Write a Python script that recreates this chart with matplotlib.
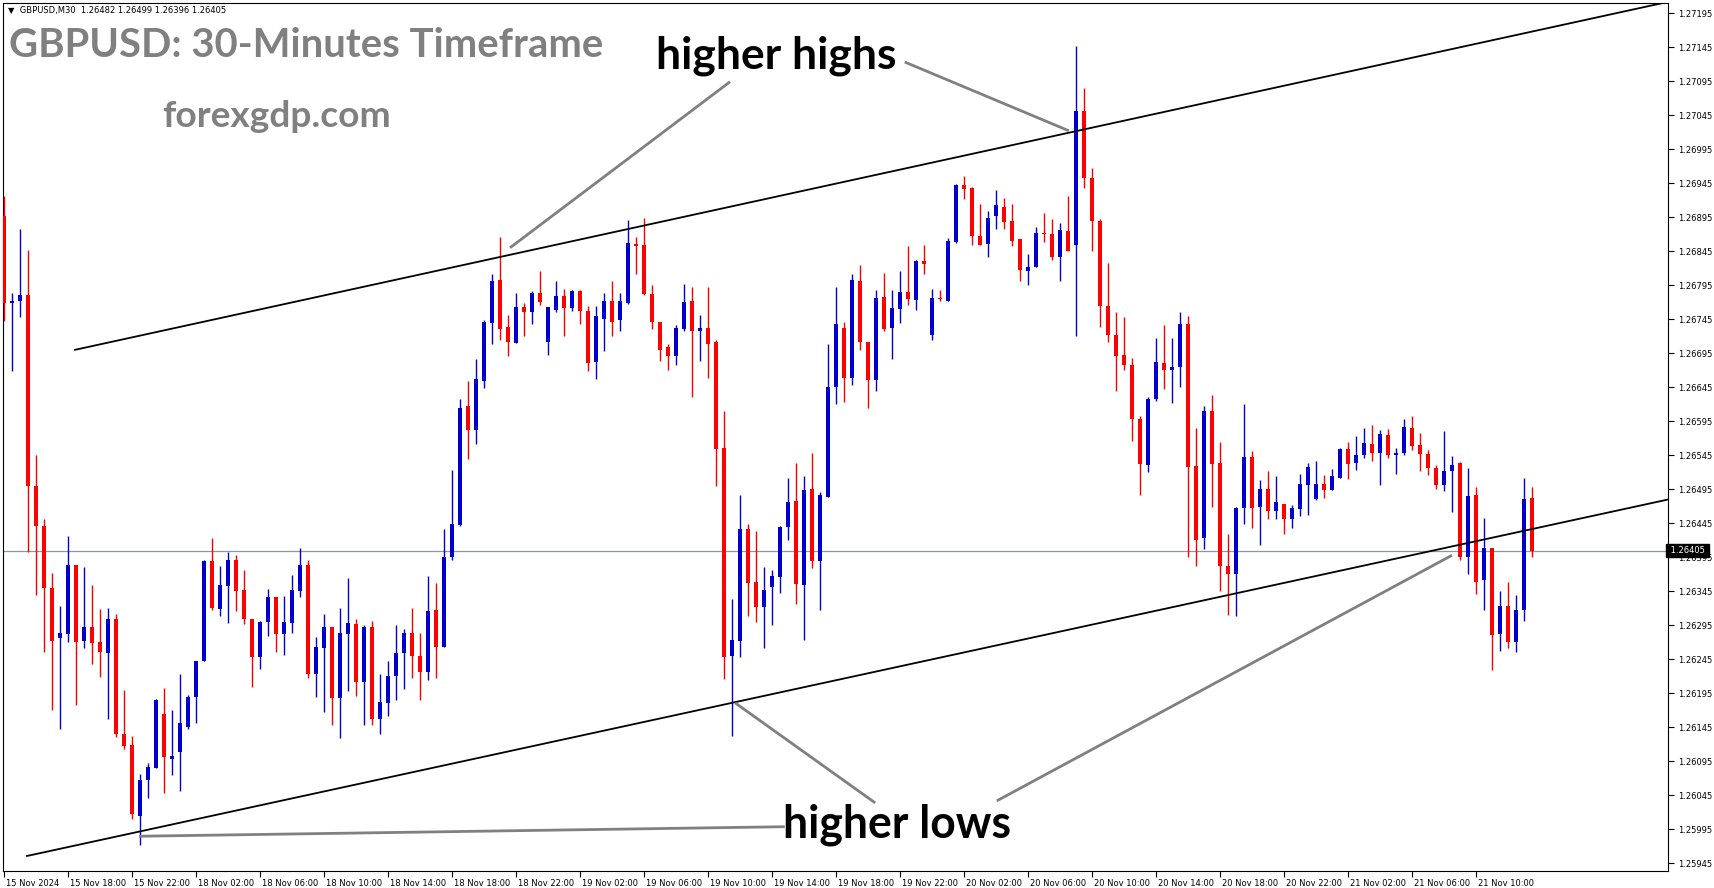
import matplotlib
matplotlib.use('Agg')
import matplotlib.pyplot as plt
import matplotlib.transforms as mtransforms
import numpy as np

# GBPUSD M30 candles, 15 Nov 14:00 -> 21 Nov 13:30
opens = [
    1.26896, 1.26769, 1.26772, 1.26780, 1.26500, 1.26441, 1.26350, 1.26277, 1.26283, 1.26383,
    1.26272, 1.26293, 1.26271, 1.26254, 1.26305, 1.26136, 1.26119, 1.26015, 1.26067, 1.26085,
    1.26164, 1.26099, 1.26109, 1.26146, 1.26190, 1.26242, 1.26389, 1.26319, 1.26353, 1.26391,
    1.26347, 1.26304, 1.26248, 1.26300, 1.26337, 1.26283, 1.26298, 1.26346, 1.26383, 1.26223,
    1.26262, 1.26292, 1.26188, 1.26283, 1.26297, 1.26211, 1.26292, 1.26157, 1.26181, 1.26220,
    1.26254, 1.26284, 1.26250, 1.26227, 1.26317, 1.26263, 1.26395, 1.26443, 1.26617, 1.26582,
    1.26654, 1.26739, 1.26803, 1.26733, 1.26710, 1.26763, 1.26755, 1.26783, 1.26711, 1.26759,
    1.26779, 1.26762, 1.26786, 1.26757, 1.26682, 1.26746, 1.26772, 1.26744, 1.26769, 1.26855,
    1.26854, 1.26782, 1.26741, 1.26704, 1.26691, 1.26730, 1.26772, 1.26728, 1.26732, 1.26711,
    1.26555, 1.26250, 1.26272, 1.26437, 1.26359, 1.26322, 1.26351, 1.26366, 1.26439, 1.26478,
    1.26354, 1.26495, 1.26389, 1.26483, 1.26645, 1.26732, 1.26658, 1.26801, 1.26711, 1.26655,
    1.26777, 1.26732, 1.26760, 1.26785, 1.26773, 1.26831, 1.26722, 1.26776, 1.26772, 1.26858,
    1.26942, 1.26938, 1.26868, 1.26856, 1.26896, 1.26910, 1.26889, 1.26863, 1.26816, 1.26822,
    1.26872, 1.26870, 1.26837, 1.26875, 1.26854, 1.27051, 1.26952, 1.26890, 1.26765, 1.26722,
    1.26692, 1.26678, 1.26598, 1.26530, 1.26628, 1.26681, 1.26670, 1.26675, 1.26738, 1.26529,
    1.26423, 1.26610, 1.26534, 1.26382, 1.26370, 1.26467, 1.26543, 1.26469, 1.26495, 1.26463,
    1.26474, 1.26452, 1.26466, 1.26501, 1.26481, 1.26503, 1.26494, 1.26512, 1.26554, 1.26533,
    1.26545, 1.26561, 1.26549, 1.26575, 1.26545, 1.26548, 1.26585, 1.26560, 1.26547, 1.26527,
    1.26501, 1.26522, 1.26533, 1.26395, 1.26487, 1.26362, 1.26409, 1.26283, 1.26324, 1.26270,
    1.26318, 1.26482]
highs = [
    1.26926, 1.26783, 1.26877, 1.26847, 1.26545, 1.26452, 1.26372, 1.26323, 1.26426, 1.26383,
    1.26381, 1.26354, 1.26319, 1.26321, 1.26311, 1.26200, 1.26132, 1.26076, 1.26092, 1.26186,
    1.26203, 1.26170, 1.26223, 1.26192, 1.26242, 1.26391, 1.26424, 1.26382, 1.26403, 1.26399,
    1.26376, 1.26304, 1.26301, 1.26348, 1.26337, 1.26338, 1.26369, 1.26408, 1.26391, 1.26278,
    1.26311, 1.26292, 1.26321, 1.26364, 1.26304, 1.26296, 1.26302, 1.26224, 1.26242, 1.26295,
    1.26290, 1.26321, 1.26284, 1.26368, 1.26357, 1.26437, 1.26523, 1.26627, 1.26654, 1.26687,
    1.26744, 1.26812, 1.26866, 1.26751, 1.26783, 1.26769, 1.26787, 1.26816, 1.26763, 1.26801,
    1.26789, 1.26788, 1.26788, 1.26765, 1.26764, 1.26783, 1.26801, 1.26783, 1.26891, 1.26866,
    1.26894, 1.26795, 1.26741, 1.26708, 1.26736, 1.26797, 1.26793, 1.26751, 1.26793, 1.26715,
    1.26610, 1.26334, 1.26486, 1.26444, 1.26434, 1.26381, 1.26376, 1.26441, 1.26511, 1.26534,
    1.26515, 1.26549, 1.26491, 1.26708, 1.26793, 1.26741, 1.26811, 1.26824, 1.26711, 1.26788,
    1.26813, 1.26788, 1.26816, 1.26852, 1.26832, 1.26854, 1.26789, 1.26788, 1.26865, 1.26944,
    1.26955, 1.26940, 1.26914, 1.26904, 1.26935, 1.26923, 1.26914, 1.26863, 1.26841, 1.26881,
    1.26901, 1.26893, 1.26887, 1.26926, 1.27147, 1.27085, 1.26967, 1.26893, 1.26828, 1.26755,
    1.26748, 1.26688, 1.26602, 1.26631, 1.26717, 1.26736, 1.26718, 1.26755, 1.26749, 1.26585,
    1.26618, 1.26633, 1.26564, 1.26429, 1.26469, 1.26620, 1.26551, 1.26509, 1.26522, 1.26514,
    1.26474, 1.26472, 1.26518, 1.26533, 1.26536, 1.26516, 1.26525, 1.26556, 1.26564, 1.26574,
    1.26585, 1.26589, 1.26582, 1.26584, 1.26556, 1.26598, 1.26603, 1.26578, 1.26553, 1.26530,
    1.26580, 1.26544, 1.26535, 1.26526, 1.26498, 1.26453, 1.26409, 1.26345, 1.26359, 1.26339,
    1.26512, 1.26499]
lows = [
    1.26743, 1.26669, 1.26748, 1.26403, 1.26339, 1.26256, 1.26170, 1.26143, 1.26271, 1.26178,
    1.26262, 1.26238, 1.26219, 1.26157, 1.26131, 1.26113, 1.26010, 1.25972, 1.26041, 1.26085,
    1.26048, 1.26075, 1.26052, 1.26142, 1.26151, 1.26242, 1.26318, 1.26309, 1.26298, 1.26316,
    1.26297, 1.26205, 1.26231, 1.26280, 1.26256, 1.26252, 1.26284, 1.26336, 1.26217, 1.26190,
    1.26167, 1.26149, 1.26130, 1.26198, 1.26191, 1.26149, 1.26149, 1.26136, 1.26162, 1.26185,
    1.26202, 1.26217, 1.26185, 1.26214, 1.26217, 1.26263, 1.26391, 1.26441, 1.26540, 1.26561,
    1.26644, 1.26708, 1.26714, 1.26691, 1.26710, 1.26721, 1.26738, 1.26766, 1.26693, 1.26755,
    1.26721, 1.26757, 1.26738, 1.26669, 1.26657, 1.26698, 1.26721, 1.26727, 1.26767, 1.26811,
    1.26780, 1.26730, 1.26683, 1.26671, 1.26677, 1.26728, 1.26631, 1.26683, 1.26659, 1.26500,
    1.26216, 1.26132, 1.26249, 1.26308, 1.26300, 1.26262, 1.26295, 1.26342, 1.26420, 1.26326,
    1.26273, 1.26379, 1.26318, 1.26483, 1.26620, 1.26623, 1.26648, 1.26700, 1.26614, 1.26640,
    1.26727, 1.26686, 1.26740, 1.26766, 1.26759, 1.26811, 1.26715, 1.26772, 1.26772, 1.26857,
    1.26922, 1.26854, 1.26854, 1.26837, 1.26878, 1.26878, 1.26852, 1.26801, 1.26795, 1.26822,
    1.26858, 1.26832, 1.26801, 1.26845, 1.26721, 1.26938, 1.26845, 1.26734, 1.26711, 1.26640,
    1.26670, 1.26566, 1.26487, 1.26520, 1.26625, 1.26642, 1.26622, 1.26646, 1.26395, 1.26382,
    1.26407, 1.26469, 1.26346, 1.26310, 1.26308, 1.26444, 1.26438, 1.26413, 1.26451, 1.26451,
    1.26429, 1.26438, 1.26456, 1.26457, 1.26479, 1.26482, 1.26494, 1.26511, 1.26510, 1.26523,
    1.26541, 1.26537, 1.26502, 1.26541, 1.26518, 1.26546, 1.26553, 1.26522, 1.26516, 1.26495,
    1.26493, 1.26462, 1.26391, 1.26370, 1.26341, 1.26318, 1.26230, 1.26258, 1.26262, 1.26256,
    1.26302, 1.26396]
closes = [
    1.26769, 1.26772, 1.26780, 1.26500, 1.26441, 1.26350, 1.26272, 1.26284, 1.26383, 1.26271,
    1.26293, 1.26269, 1.26256, 1.26304, 1.26136, 1.26118, 1.26017, 1.26068, 1.26087, 1.26185,
    1.26101, 1.26103, 1.26151, 1.26190, 1.26242, 1.26389, 1.26321, 1.26354, 1.26391, 1.26346,
    1.26305, 1.26248, 1.26300, 1.26337, 1.26283, 1.26300, 1.26347, 1.26383, 1.26223, 1.26263,
    1.26292, 1.26188, 1.26284, 1.26298, 1.26211, 1.26293, 1.26158, 1.26183, 1.26221, 1.26254,
    1.26284, 1.26250, 1.26227, 1.26316, 1.26263, 1.26395, 1.26444, 1.26614, 1.26582, 1.26657,
    1.26741, 1.26801, 1.26731, 1.26712, 1.26763, 1.26755, 1.26783, 1.26770, 1.26763, 1.26779,
    1.26762, 1.26786, 1.26757, 1.26681, 1.26750, 1.26772, 1.26741, 1.26772, 1.26857, 1.26852,
    1.26782, 1.26741, 1.26700, 1.26691, 1.26732, 1.26770, 1.26728, 1.26732, 1.26708, 1.26554,
    1.26249, 1.26273, 1.26437, 1.26357, 1.26322, 1.26347, 1.26368, 1.26439, 1.26477, 1.26356,
    1.26494, 1.26389, 1.26486, 1.26645, 1.26738, 1.26659, 1.26803, 1.26711, 1.26655, 1.26776,
    1.26730, 1.26761, 1.26785, 1.26774, 1.26831, 1.26826, 1.26776, 1.26774, 1.26860, 1.26942,
    1.26936, 1.26868, 1.26854, 1.26894, 1.26913, 1.26888, 1.26860, 1.26818, 1.26822, 1.26872,
    1.26870, 1.26837, 1.26876, 1.26845, 1.27051, 1.26952, 1.26890, 1.26765, 1.26722, 1.26691,
    1.26677, 1.26598, 1.26532, 1.26627, 1.26682, 1.26670, 1.26675, 1.26738, 1.26528, 1.26421,
    1.26610, 1.26532, 1.26382, 1.26371, 1.26467, 1.26543, 1.26468, 1.26495, 1.26463, 1.26476,
    1.26451, 1.26468, 1.26503, 1.26528, 1.26503, 1.26494, 1.26515, 1.26554, 1.26532, 1.26546,
    1.26563, 1.26548, 1.26576, 1.26545, 1.26548, 1.26587, 1.26559, 1.26547, 1.26526, 1.26501,
    1.26522, 1.26530, 1.26395, 1.26485, 1.26359, 1.26409, 1.26281, 1.26324, 1.26270, 1.26318,
    1.26481, 1.26405]

last_price = 1.26405

time_tick_bars = list(range(0, 185, 8))
time_tick_labels = [
    '15 Nov 2024', '15 Nov 18:00', '15 Nov 22:00', '18 Nov 02:00', '18 Nov 06:00',
    '18 Nov 10:00', '18 Nov 14:00', '18 Nov 18:00', '18 Nov 22:00', '19 Nov 02:00',
    '19 Nov 06:00', '19 Nov 10:00', '19 Nov 14:00', '19 Nov 18:00', '19 Nov 22:00',
    '20 Nov 02:00', '20 Nov 06:00', '20 Nov 10:00', '20 Nov 14:00', '20 Nov 18:00',
    '20 Nov 22:00', '21 Nov 02:00', '21 Nov 06:00', '21 Nov 10:00']
price_ticks = [
    1.27195, 1.27145, 1.27095, 1.27045, 1.26995, 1.26945, 1.26895, 1.26845, 1.26795,
    1.26745, 1.26695, 1.26645, 1.26595, 1.26545, 1.26495, 1.26445, 1.26395, 1.26345,
    1.26295, 1.26245, 1.26195, 1.26145, 1.26095, 1.26045, 1.25995, 1.25945]

# channel trendlines (bar index, price): two anchors each, extended to the right
upper_line = [(8.875, 1.26700), (172.0, 1.27119)]
lower_line = [(2.875, 1.25956), (172.0, 1.26388)]

# grey pointer lines from the labels
pointers = [
    [(90.75, 1.27094), (63.25, 1.26850)],
    [(112.6, 1.27123), (133.1, 1.27022)],
    [(91.4, 1.26181), (108.9, 1.26034)],
    [(124.1, 1.26037), (181.0, 1.26398)],
    [(16.9, 1.25985), (97.6, 1.25999)],
]

W, H = 1714, 888
fig = plt.figure(figsize=(W / 100, H / 100), dpi=100)
ax = fig.add_axes([2.5 / W, 1 - 871 / H, (1668 - 2.5) / W, (871 - 3) / H])

o, h, l, c = (np.array(v) for v in (opens, highs, lows, closes))
x = np.arange(len(o))
cols = np.where(c >= o, '#0000CD', '#FF0000')

ax.axhline(last_price, color='#8a96a3', lw=0.9, zorder=1)
ax.vlines(x, l, h, colors=cols, lw=1.0, zorder=3)
ax.bar(x, np.maximum(np.abs(c - o), 0.000012), bottom=np.minimum(o, c), width=0.6,
       color=cols, linewidth=0, zorder=4)

x_right = 208.0
for (x0, y0), (x1, y1) in (upper_line, lower_line):
    slope = (y1 - y0) / (x1 - x0)
    ax.plot([x0, x_right], [y0, y0 + slope * (x_right - x0)], color='black', lw=1.3, zorder=5)

for (x0, y0), (x1, y1) in pointers:
    ax.plot([x0, x1], [y0, y1], color='#808080', lw=2.0, zorder=5, solid_capstyle='butt')

ax.set_xlim(-0.19, x_right)
ax.set_ylim(1.259339, 1.272098)

for s in ax.spines.values():
    s.set_color('black')
    s.set_linewidth(0.8)

ax.yaxis.tick_right()
ax.set_yticks(price_ticks)
ax.set_yticklabels([f'{p:.5f}' for p in price_ticks])
ax.set_xticks(time_tick_bars)
ax.set_xticklabels(time_tick_labels)
ax.tick_params(axis='both', direction='out', length=4, width=0.8, labelsize=6, colors='black')
ax.tick_params(axis='x', pad=2)
ax.tick_params(axis='y', pad=3)
offset = mtransforms.ScaledTranslation(0.02, 0, fig.dpi_scale_trans)
for lab in ax.get_xticklabels():
    lab.set_ha('left')
    lab.set_transform(lab.get_transform() + offset)

# current price box on the right scale
ax.text(1.0, last_price, ' 1.26405 ', transform=mtransforms.blended_transform_factory(ax.transAxes, ax.transData),
        ha='left', va='center', fontsize=6, color='white', zorder=10, clip_on=False,
        bbox=dict(boxstyle='square,pad=0.2', fc='black', ec='black'))

fig.text(8 / W, 1 - 11 / H, '\u25bc  GBPUSD,M30  1.26482 1.26499 1.26396 1.26405',
         fontsize=6, color='black', ha='left', va='center')


def fit_text(s, x0, x1, base, color):
    t = fig.text(x0 / W, 1 - base / H, s, fontsize=30, fontweight='bold', color=color,
                 family='Lato', ha='left', va='baseline', zorder=20)
    wpx = t.get_window_extent(fig.canvas.get_renderer()).width
    t.set_fontsize(30 * (x1 - x0) / wpx)
    return t


fit_text('GBPUSD: 30-Minutes Timeframe', 9, 603, 57, '#808080')
fit_text('forexgdp.com', 162, 390, 127, '#808080')
fit_text('higher highs', 656, 896, 68, 'black')
fit_text('higher lows', 783, 1011, 837, 'black')

fig.savefig('out.png', dpi=100)
